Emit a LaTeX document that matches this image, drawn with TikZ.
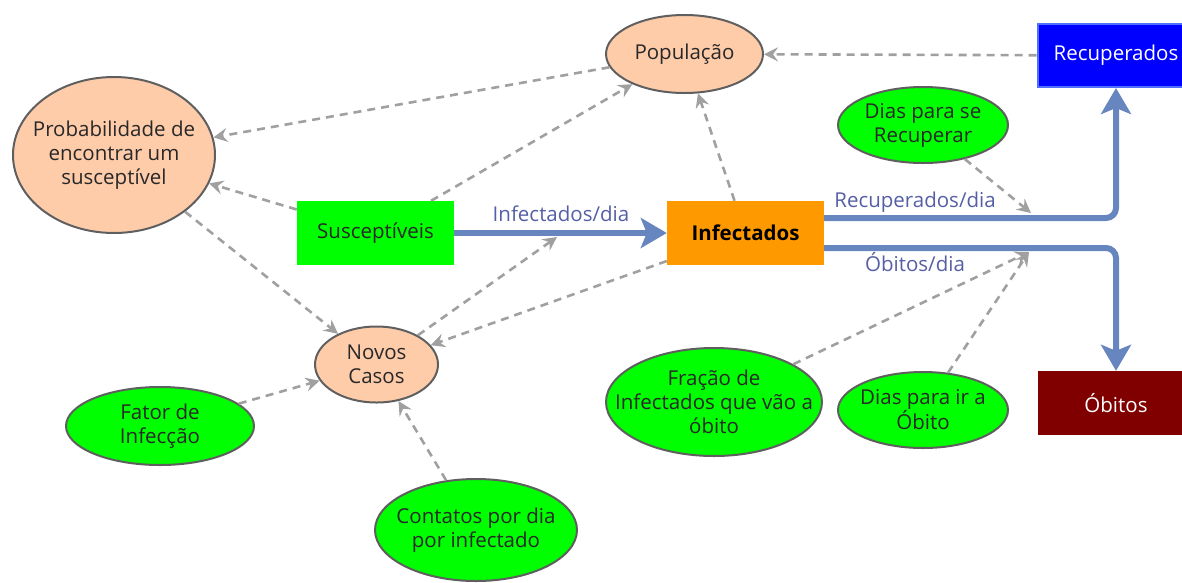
\documentclass[tikz,border=0pt]{standalone}
\usepackage{fontspec}
\setmainfont{Open Sans}
\usetikzlibrary{shapes.geometric,arrows.meta}
\definecolor{peach}{RGB}{255,204,170}
\definecolor{edgegray}{RGB}{95,95,95}
\definecolor{limefill}{RGB}{0,255,0}
\definecolor{orangebox}{RGB}{255,153,0}
\definecolor{bluebox}{RGB}{0,0,255}
\definecolor{blueedge}{RGB}{80,110,255}
\definecolor{darkredbox}{RGB}{128,0,0}
\definecolor{flowcol}{RGB}{103,133,191}
\definecolor{labcol}{RGB}{85,95,165}
\definecolor{dashcol}{RGB}{160,160,160}
\definecolor{txt}{RGB}{40,40,40}
\begin{document}
\begin{tikzpicture}[x=1pt,y=-1pt,
 every node/.style={font=\fontsize{20.5}{24}\selectfont, text=txt, align=center},
 aux/.style={ellipse, draw=edgegray, line width=2pt, fill=peach, inner sep=0pt},
 param/.style={ellipse, draw=edgegray, line width=2pt, fill=limefill, inner sep=0pt},
 inside/.style={label={[inner sep=0pt]center:{#1}}},
 stock/.style={rectangle, inner sep=0pt, minimum width=157pt, minimum height=64pt},
 dep/.style={draw=dashcol, line width=2.6pt, dash pattern=on 8pt off 6pt, -{Stealth[length=14pt,width=14pt,inset=5pt]}},
 flow/.style={draw=flowcol, line width=6pt, rounded corners=10pt, -{Stealth[length=26pt,width=30pt,inset=6pt]}},
 lbl/.style={text=labcol, inner sep=0pt}
]
\useasboundingbox (0,0) rectangle (1182,582);
\clip (0,0) rectangle (1182,582);

\node[aux, minimum width=202pt, minimum height=156pt, inside={Probabilidade de\\encontrar um\\susceptível}] (prob) at (114,155) {};
\node[aux, minimum width=157pt, minimum height=78pt, inside={População}] (pop) at (684.5,54) {};
\node[aux, minimum width=123pt, minimum height=76pt, inside={Novos\\Casos}] (novos) at (376.5,364.5) {};
\node[stock, fill=limefill] (sus) at (375.5,233) {Susceptíveis};
\node[stock, fill=orangebox, font=\fontsize{20.5}{24}\selectfont\bfseries, text=black] (inf) at (745.5,233) {Infectados};
\node[stock, fill=bluebox, draw=blueedge, line width=2pt, text=white, minimum height=63pt] (rec) at (1116,55.5) {Recuperados};
\node[stock, fill=darkredbox, text=white] (obi) at (1116,403) {Óbitos};
\node[param, minimum width=170pt, minimum height=76pt, inside={Dias para se\\Recuperar}] (drec) at (923,125) {};
\node[param, minimum width=216pt, minimum height=108pt, inside={Fração de\\Infectados que vão a\\óbito}] (frac) at (714,402) {};
\node[param, minimum width=170pt, minimum height=76pt, inside={Dias para ir a\\Óbito}] (dobi) at (923,410) {};
\node[param, minimum width=188pt, minimum height=78pt, inside={Fator de\\Infecção}] (fator) at (160,426) {};
\node[param, minimum width=202pt, minimum height=102pt, inside={Contatos por dia\\por infectado}] (cont) at (476,530) {};

\coordinate (yr) at (0,218);
\coordinate (yo) at (0,248);
\draw[flow] (sus.east) -- (inf.west);
\draw[flow] (inf.east |- yr) -- (rec.south |- yr) -- (rec.south);
\draw[flow] (inf.east |- yo) -- (obi.north |- yo) -- (obi.north);

\node[lbl] (linf) at (561,214) {Infectados/dia};
\node[lbl] (lrec) at (915,202) {Recuperados/dia};
\node[lbl] (lobi) at (915,262) {Óbitos/dia};

\coordinate (finf) at (557,237);
\coordinate (frec) at (1031,213);
\coordinate (fobi) at (1029,252);
\draw[dep] (pop) -- (prob);
\draw[dep] (sus) -- (pop);
\draw[dep] (sus) -- (prob);
\draw[dep] (prob) -- (novos);
\draw[dep] (inf) -- (novos);
\draw[dep] (inf) -- (pop);
\draw[dep] (rec) -- (pop);
\draw[dep] (fator) -- (novos);
\draw[dep] (cont) -- (novos);
\draw[dep] (novos) -- (finf);
\draw[dep] (drec) -- (frec);
\draw[dep] (frac) -- (fobi);
\draw[dep] (dobi) -- (fobi);
\end{tikzpicture}
\end{document}
